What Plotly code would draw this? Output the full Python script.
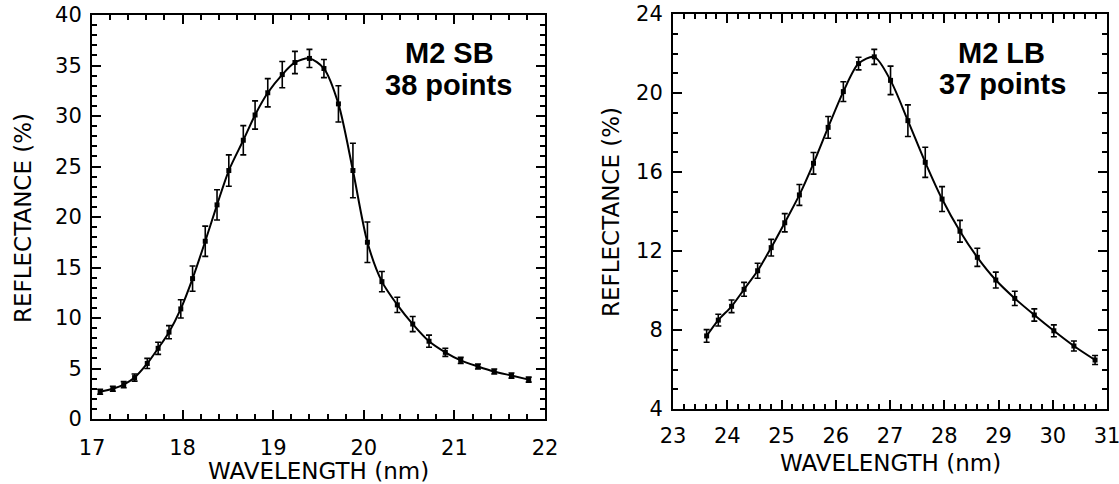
import plotly.graph_objects as go

# M2 SB: short-band reflectance measurements
sb_wavelength = [17.09, 17.23, 17.35, 17.47, 17.61, 17.73, 17.85, 17.98, 18.11, 18.25,
                 18.38, 18.51, 18.67, 18.80, 18.94, 19.10, 19.24, 19.40, 19.56, 19.72,
                 19.88, 20.04, 20.20, 20.37, 20.54, 20.72, 20.90, 21.07, 21.26, 21.44,
                 21.63, 21.82]
sb_reflectance = [2.7, 3.0, 3.4, 4.1, 5.5, 7.0, 8.6, 10.9, 13.9, 17.6,
                  21.2, 24.6, 27.6, 30.1, 32.3, 34.1, 35.3, 35.7, 34.7, 31.2,
                  24.6, 17.5, 13.6, 11.3, 9.4, 7.7, 6.6, 5.8, 5.2, 4.7,
                  4.3, 3.9]
sb_error = [0.25, 0.25, 0.3, 0.35, 0.5, 0.6, 0.65, 0.9, 1.25, 1.5,
            1.5, 1.55, 1.45, 1.4, 1.4, 1.3, 1.1, 0.9, 0.9, 1.8,
            2.7, 2.0, 1.0, 0.75, 0.75, 0.6, 0.4, 0.3, 0.25, 0.25,
            0.25, 0.25]

# M2 LB: long-band reflectance measurements
lb_wavelength = [23.62, 23.835, 24.08, 24.31, 24.56, 24.81, 25.06, 25.33, 25.59, 25.86,
                 26.14, 26.42, 26.71, 27.01, 27.33, 27.65, 27.96, 28.29, 28.61, 28.95,
                 29.30, 29.66, 30.02, 30.39, 30.78]
lb_reflectance = [7.7, 8.5, 9.2, 10.06, 11.0, 12.17, 13.43, 14.84, 16.44, 18.26,
                  20.07, 21.49, 21.83, 20.64, 18.6, 16.49, 14.63, 13.0, 11.68, 10.53,
                  9.6, 8.76, 7.96, 7.19, 6.48]
lb_error = [0.32, 0.3, 0.32, 0.35, 0.38, 0.42, 0.46, 0.53, 0.55, 0.55,
            0.5, 0.32, 0.38, 0.72, 0.8, 0.76, 0.63, 0.55, 0.46, 0.4,
            0.36, 0.31, 0.3, 0.25, 0.23]

W, H = 1119, 484
TICK_FONT = dict(family="DejaVu Sans", size=21, color="black")
TITLE_FONT = dict(family="DejaVu Sans", size=23, color="black")
LABEL_FONT = dict(family="Liberation Sans", size=29, color="black", weight="bold")


def series(x, y, err, xa, ya):
    return go.Scatter(
        x=x, y=y, xaxis=xa, yaxis=ya, mode="lines+markers",
        line=dict(color="black", width=2, shape="spline", smoothing=0.8),
        marker=dict(symbol="square", size=5, color="black"),
        error_y=dict(type="data", array=err, visible=True, color="black",
                     thickness=1.6, width=3),
        showlegend=False,
    )


def axis(rng, dom, dtick, minor, anchor, standoff):
    return dict(
        range=rng, domain=dom, anchor=anchor, tickmode="linear", tick0=rng[0],
        dtick=dtick, ticks="inside", ticklen=9, tickwidth=2, tickcolor="black",
        minor=dict(dtick=minor, ticks="inside", ticklen=5, tickwidth=1.5,
                   tickcolor="black", showgrid=False),
        showline=True, linewidth=2, linecolor="black", mirror="ticks",
        showgrid=False, zeroline=False, tickfont=TICK_FONT,
        ticklabelstandoff=standoff, ticklabeloverflow="allow", automargin=False,
    )


fig = go.Figure()
fig.add_trace(series(sb_wavelength, sb_reflectance, sb_error, "x", "y"))
fig.add_trace(series(lb_wavelength, lb_reflectance, lb_error, "x2", "y2"))

fig.update_layout(
    template="none",
    width=W, height=H, margin=dict(l=0, r=0, t=0, b=0, pad=0),
    paper_bgcolor="white", plot_bgcolor="white",
    xaxis=axis([17, 22], [92 / W, 545 / W], 1, 0.2, "y", 9),
    yaxis=axis([0, 40], [(H - 419) / H, (H - 15) / H], 5, 1, "x", 4),
    xaxis2=axis([23, 31], [673 / W, 1107 / W], 1, 0.2, "y2", 7),
    yaxis2=axis([4, 24], [(H - 409) / H, (H - 14) / H], 4, 1, "x2", 4),
)


def note(text, x, y, font, angle=0):
    fig.add_annotation(text=text, x=x / W, y=1 - y / H, xref="paper", yref="paper",
                       xanchor="center", yanchor="middle", showarrow=False,
                       font=font, textangle=angle)


note("WAVELENGTH (nm)", 318, 471, TITLE_FONT)
note("WAVELENGTH (nm)", 890, 463, TITLE_FONT)
note("REFLECTANCE (%)", 23, 218, TITLE_FONT, -90)
note("REFLECTANCE (%)", 611, 212, TITLE_FONT, -90)
note("M2 SB", 449, 53, LABEL_FONT)
note("38 points", 448, 85, LABEL_FONT)
note("M2 LB", 1001, 53, LABEL_FONT)
note("37 points", 1002, 84, LABEL_FONT)

fig.write_html("out.html")
